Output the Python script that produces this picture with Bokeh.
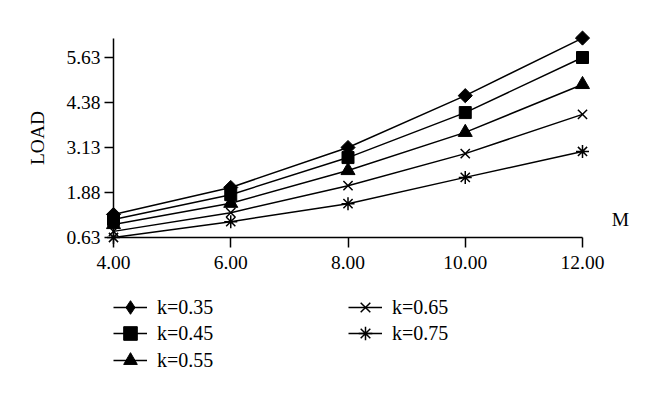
import math
from bokeh.plotting import figure
from bokeh.models import (Range1d, FixedTicker, PrintfTickFormatter, Legend,
                          LegendItem, Label, ColumnDataSource)
from bokeh.embed import file_html
from bokeh.resources import INLINE

# ---- data ----
m_values = [4, 6, 8, 10, 12]
k035 = [1.27, 2.02, 3.13, 4.57, 6.17]
k045 = [1.13, 1.82, 2.85, 4.10, 5.63]
k055 = [0.99, 1.58, 2.49, 3.55, 4.88]
k065 = [0.80, 1.32, 2.07, 2.96, 4.05]
k075 = [0.63, 1.07, 1.57, 2.30, 3.02]
series_labels = ["k=0.35", "k=0.45", "k=0.55", "k=0.65", "k=0.75"]
x_ticks = [4, 6, 8, 10, 12]
y_ticks = [0.63, 1.88, 3.13, 4.38, 5.63]
x_label = "M"
y_label = "LOAD"

FONT = "Liberation Serif"
W, H = 656, 395
# pixel anchors of the axes inside the canvas
X0_PX, X1_PX = 113, 582        # x = 4 and x = 12
Y0_PX, YSCALE = 237, 36.0      # y = 0.63 and pixels per unit
x_min, x_max = x_ticks[0], x_ticks[-1]
xs = (X1_PX - X0_PX) / (x_max - x_min)
y_base = y_ticks[0]
x_range = Range1d(x_min - X0_PX / xs, x_max + (W - X1_PX) / xs)
y_range = Range1d(y_base - (H - Y0_PX) / YSCALE, y_base + Y0_PX / YSCALE)

p = figure(width=W, height=H, output_backend="svg", toolbar_location=None,
           x_range=x_range, y_range=y_range, min_border=0)
p.outline_line_color = None
p.xgrid.visible = False
p.ygrid.visible = False

for ax in (p.xaxis[0], p.yaxis[0]):
    ax.axis_line_width = 1.5
    ax.axis_line_color = "black"
    ax.major_tick_line_width = 1.5
    ax.major_tick_line_color = "black"
    ax.major_tick_in = 0
    ax.minor_tick_line_color = None
    ax.major_label_text_font = FONT
    ax.major_label_text_font_size = "19.5px"
    ax.major_label_text_color = "black"

p.xaxis.fixed_location = y_base
p.yaxis.fixed_location = x_min
p.xaxis.bounds = (x_min, x_max)
p.yaxis.bounds = (y_base, 6.16)
p.xaxis.ticker = FixedTicker(ticks=x_ticks)
p.yaxis.ticker = FixedTicker(ticks=y_ticks)
p.xaxis.formatter = PrintfTickFormatter(format="%.2f")
p.yaxis.formatter = PrintfTickFormatter(format="%.2f")
p.xaxis.major_tick_out = 10
p.xaxis.major_label_standoff = 8
p.yaxis.major_tick_out = 9
p.yaxis.major_label_standoff = 4

p.yaxis.axis_label = y_label
p.yaxis.axis_label_text_font = FONT
p.yaxis.axis_label_text_font_size = "19.5px"
p.yaxis.axis_label_text_font_style = "normal"
p.yaxis.axis_label_text_color = "black"
p.yaxis.axis_label_standoff = 15

series = [k035, k045, k055, k065, k075]
items = []
lw = 1.5
for i, (vals, lab) in enumerate(zip(series, series_labels)):
    src = ColumnDataSource(dict(x=m_values, y=vals))
    lr = p.line("x", "y", source=src, line_color="black", line_width=lw)
    rs = [lr]
    if i == 0:
        # legend-only diamond, fully covered by the rotated square in the plot
        rs.append(p.scatter("x", "y", source=src, marker="diamond", size=11,
                            color="black"))
        p.scatter("x", "y", source=src, marker="square", angle=math.pi / 4,
                  size=10, color="black")
    elif i == 1:
        rs.append(p.scatter("x", "y", source=src, marker="square", size=12,
                            color="black"))
    elif i == 2:
        rs.append(p.scatter("x", "y", source=src, marker="triangle", size=14,
                            color="black"))
    elif i == 3:
        rs.append(p.scatter("x", "y", source=src, marker="x", size=13,
                            line_color="black", line_width=1.5))
    else:
        rs.append(p.scatter("x", "y", source=src, marker="asterisk", size=13,
                            line_color="black", line_width=1.5))
    items.append(LegendItem(label=lab, renderers=rs))


def make_legend(it, loc):
    lg = Legend(items=[it], location=loc, orientation="vertical")
    lg.label_text_font = FONT
    lg.label_text_font_size = "20px"
    lg.label_text_color = "black"
    lg.label_text_baseline = "middle"
    lg.glyph_width = 34
    lg.glyph_height = 34
    lg.label_height = 34
    lg.label_standoff = 10
    lg.spacing = 0
    lg.padding = 0
    lg.margin = 0
    lg.border_line_color = None
    lg.background_fill_alpha = 0
    return lg


# one legend per entry: two columns, rows 27 px apart
legend_cols = [113, 113, 113, 348, 348]
legend_rows = [71, 45, 18, 71, 45]
for it, cx, ry in zip(items, legend_cols, legend_rows):
    p.add_layout(make_legend(it, (cx, ry)))

p.add_layout(Label(x=x_max, y=y_base, x_offset=38, y_offset=18, text=x_label,
                   text_font=FONT, text_font_size="19.5px", text_align="center",
                   text_baseline="middle", text_color="black"))

open("out.html", "w").write(file_html(p, INLINE))
